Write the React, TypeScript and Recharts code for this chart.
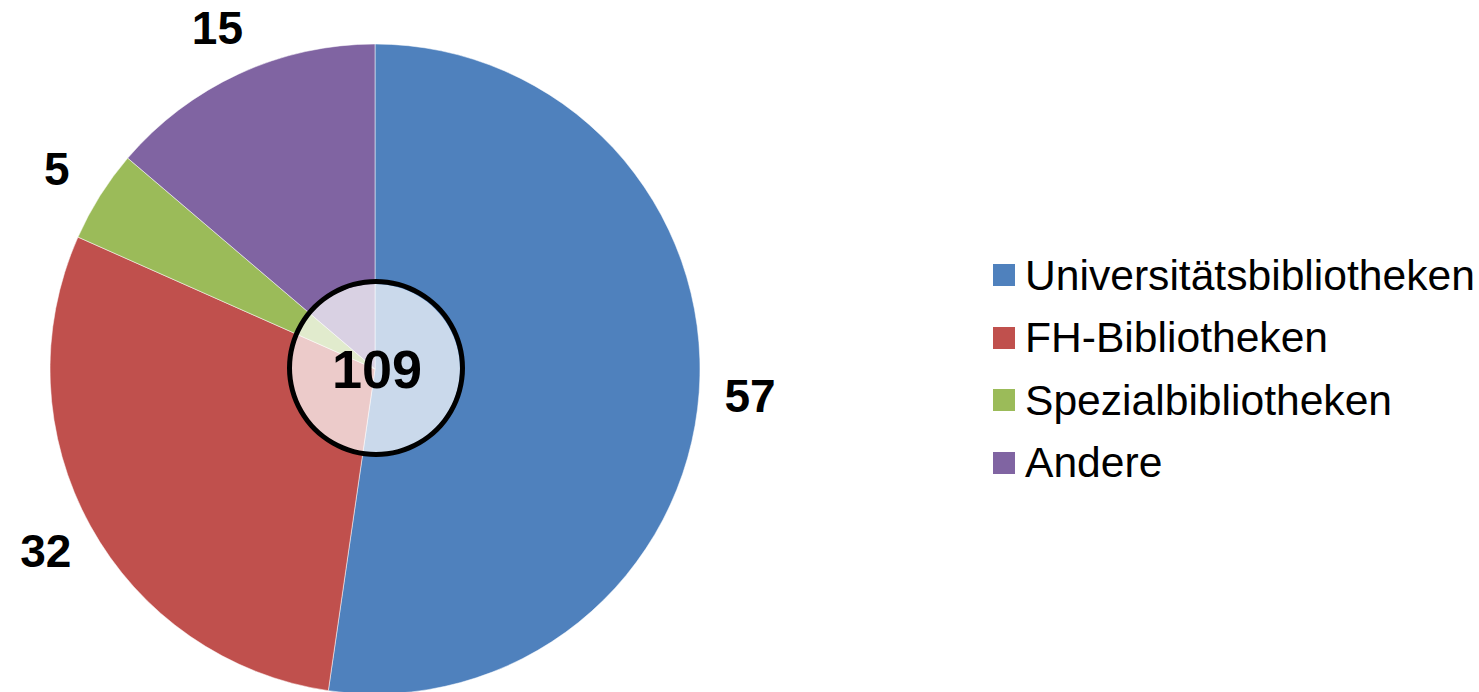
import { PieChart, Pie, Cell, Legend } from "recharts";

const CATEGORIES = [
  "Universitätsbibliotheken",
  "FH-Bibliotheken",
  "Spezialbibliotheken",
  "Andere",
];
const COUNTS = [57, 32, 5, 15];
const COLORS = ["#4F81BD", "#C0504D", "#9BBB59", "#8064A2"];

const FONT = "'Liberation Sans', Arial, Helvetica, sans-serif";
const RADIAN = Math.PI / 180;

const data = CATEGORIES.map((name, i) => ({ name, value: COUNTS[i] }));
const total = COUNTS.reduce((a, b) => a + b, 0);
const centerData = [{ name: "Gesamt", value: total }];

const renderLabel = (props: any) => {
  const { cx, cy, midAngle, outerRadius, value } = props;
  const r = outerRadius + 51;
  const x = cx + r * Math.cos(-midAngle * RADIAN);
  const y = cy + r * Math.sin(-midAngle * RADIAN);
  return (
    <text
      x={x}
      y={y}
      dy="0.355em"
      textAnchor="middle"
      fontFamily={FONT}
      fontWeight="bold"
      fontSize={46}
      fill="#000"
    >
      {value}
    </text>
  );
};

// total in the middle of the overlay circle
const renderTotal = (props: any) => (
  <text
    x={props.cx + 2}
    y={props.cy}
    dy="0.355em"
    textAnchor="middle"
    fontFamily={FONT}
    fontWeight="bold"
    fontSize={54}
    fill="#000"
  >
    {props.value}
  </text>
);

const renderLegend = (props: any) => {
  const payload = props.payload ?? [];
  const items = CATEGORIES.filter((c) =>
    payload.some((p: any) => p.value === c)
  );
  return (
    <div style={{ fontFamily: FONT, fontSize: 42.6, color: "#000" }}>
      {items.map((name) => (
        <div
          key={name}
          style={{ display: "flex", alignItems: "center", height: 62.5 }}
        >
          <span
            style={{
              width: 22,
              height: 22,
              marginRight: 10,
              background: COLORS[CATEGORIES.indexOf(name)],
              display: "inline-block",
            }}
          />
          <span style={{ whiteSpace: "nowrap" }}>{name}</span>
        </div>
      ))}
    </div>
  );
};

export default function App() {
  return (
    <div
      style={{
        position: "absolute",
        left: 0,
        top: 0,
        width: 1479,
        height: 692,
        background: "#fff",
        fontFamily: FONT,
        overflow: "hidden",
      }}
    >
      <PieChart
        width={1479}
        height={692}
        margin={{ top: 0, right: 0, bottom: 0, left: 0 }}
      >
        <Pie
          data={data}
          dataKey="value"
          nameKey="name"
          cx={375}
          cy={369}
          outerRadius={325}
          startAngle={90}
          endAngle={-270}
          stroke="rgba(255,255,255,0.5)"
          strokeWidth={1}
          label={renderLabel}
          labelLine={false}
          isAnimationActive={false}
        >
          {data.map((d, i) => (
            <Cell key={d.name} fill={COLORS[i]} />
          ))}
        </Pie>
        <Pie
          data={centerData}
          dataKey="value"
          cx={375}
          cy={369}
          outerRadius={85}
          startAngle={90}
          endAngle={-270}
          fill="#fff"
          fillOpacity={0.7}
          stroke="none"
          legendType="none"
          label={renderTotal}
          labelLine={false}
          isAnimationActive={false}
        />
        <Pie
          data={centerData}
          dataKey="value"
          cx={376}
          cy={368}
          innerRadius={84}
          outerRadius={89}
          startAngle={90}
          endAngle={-270}
          fill="#000"
          stroke="none"
          legendType="none"
          isAnimationActive={false}
        />
        <Legend
          layout="vertical"
          align="right"
          verticalAlign="middle"
          content={renderLegend}
          wrapperStyle={{ left: 993, top: 244, width: 486 }}
        />
      </PieChart>
    </div>
  );
}
